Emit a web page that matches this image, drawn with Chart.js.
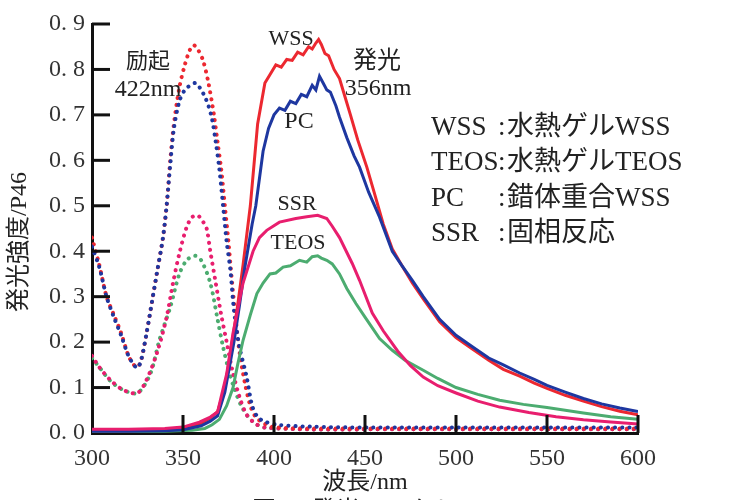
<!DOCTYPE html>
<html>
<head>
<meta charset="utf-8">
<script src="https://cdn.jsdelivr.net/npm/chart.js@4.4.1/dist/chart.umd.min.js"></script>
<style>
  body { margin: 0; background: #fff; }
  #wrap { width: 729px; height: 500px; }
</style>
</head>
<body>
<div id="wrap"><canvas id="chart"></canvas></div>
<script>
// x ticks / y ticks
const xTicks = [300, 350, 400, 450, 500, 550, 600];
const yTickLabels = ["0. 0", "0. 1", "0. 2", "0. 3", "0. 4", "0. 5", "0. 6", "0. 7", "0. 8", "0. 9"];

// emission (solid)
const wssEmWl = [300, 320, 340, 350, 360, 365, 369, 373, 377, 380, 383, 387, 391, 395, 398, 401, 404, 407, 410, 413, 416, 419, 421, 423, 424.5, 426, 428, 430, 433, 436, 439, 442, 446, 451, 455, 460, 465, 470, 476, 482, 491, 500, 509, 518, 526, 535, 543, 550, 560, 570, 580, 590, 600];
const wssEm = [0.005, 0.005, 0.007, 0.01, 0.022, 0.033, 0.047, 0.10, 0.20, 0.28, 0.37, 0.50, 0.68, 0.77, 0.79, 0.81, 0.805, 0.822, 0.82, 0.838, 0.832, 0.85, 0.845, 0.858, 0.866, 0.855, 0.835, 0.83, 0.80, 0.78, 0.74, 0.70, 0.645, 0.585, 0.53, 0.46, 0.405, 0.37, 0.33, 0.295, 0.245, 0.21, 0.185, 0.16, 0.14, 0.125, 0.11, 0.098, 0.083, 0.07, 0.058, 0.048, 0.04];

const pcEmWl = [300, 320, 340, 350, 360, 365, 369, 373, 378, 381, 384, 388, 390, 394, 397, 400, 403, 406, 409, 412, 415, 418, 421, 423, 425, 427, 429, 431, 434, 436, 440, 444, 447, 452, 458, 465, 470, 476, 482, 491, 500, 509, 518, 526, 535, 543, 550, 560, 570, 580, 590, 600];
const pcEm = [0.004, 0.004, 0.005, 0.007, 0.016, 0.026, 0.038, 0.09, 0.20, 0.28, 0.365, 0.46, 0.50, 0.62, 0.67, 0.70, 0.715, 0.71, 0.73, 0.725, 0.745, 0.74, 0.765, 0.755, 0.785, 0.77, 0.755, 0.75, 0.72, 0.695, 0.65, 0.61, 0.585, 0.53, 0.475, 0.40, 0.37, 0.336, 0.30, 0.25, 0.215, 0.19, 0.165, 0.15, 0.132, 0.118, 0.105, 0.09, 0.076, 0.064, 0.055, 0.047];

const ssrEmWl = [300, 320, 340, 350, 359, 365, 369, 371, 374, 377.5, 383, 388.5, 392, 396, 403, 412, 418, 424, 429, 432, 436, 443, 447, 454, 460, 468, 475, 482, 490, 500, 512, 524, 540, 555, 570, 585, 600];
const ssrEm = [0.008, 0.008, 0.01, 0.013, 0.024, 0.035, 0.046, 0.08, 0.13, 0.22, 0.33, 0.40, 0.43, 0.446, 0.464, 0.472, 0.476, 0.479, 0.472, 0.455, 0.43, 0.373, 0.336, 0.264, 0.225, 0.18, 0.148, 0.123, 0.104, 0.088, 0.07, 0.057, 0.045, 0.036, 0.029, 0.024, 0.02];

const teosEmWl = [300, 340, 355, 362, 366, 370, 374, 377.5, 380, 383, 387, 390.6, 394, 397.8, 401, 405, 409, 414, 418, 421, 424, 426, 429, 432, 436, 440, 445, 450, 458, 465, 472, 482, 490, 500, 512, 524, 537, 550, 570, 585, 600];
const teosEm = [0.003, 0.004, 0.006, 0.01, 0.018, 0.03, 0.06, 0.10, 0.15, 0.204, 0.26, 0.307, 0.33, 0.35, 0.352, 0.365, 0.368, 0.38, 0.376, 0.388, 0.39, 0.385, 0.38, 0.372, 0.35, 0.318, 0.285, 0.255, 0.208, 0.182, 0.16, 0.138, 0.12, 0.10, 0.085, 0.072, 0.063, 0.056, 0.044, 0.036, 0.03];

// excitation (dotted)
const wssExWl = [300, 304, 308, 312, 316, 320, 323, 325, 327, 330, 333, 336, 339, 341, 343, 345, 348, 351, 354, 356, 358, 361, 364, 367, 369, 371, 373, 375, 377, 379, 381, 384, 387, 390, 395, 400, 420, 450, 500, 550, 600];
const wssEx = [0.43, 0.37, 0.30, 0.26, 0.22, 0.17, 0.15, 0.145, 0.16, 0.22, 0.29, 0.36, 0.43, 0.50, 0.60, 0.68, 0.76, 0.81, 0.845, 0.853, 0.845, 0.82, 0.77, 0.70, 0.64, 0.58, 0.50, 0.42, 0.33, 0.25, 0.18, 0.11, 0.06, 0.035, 0.02, 0.013, 0.01, 0.01, 0.01, 0.01, 0.01];

const pcExWl = [300, 304, 308, 312, 316, 320, 323, 325, 327, 330, 333, 336, 339, 341, 343, 345, 348, 351, 354, 357, 360, 362, 364, 366, 368, 370, 372, 374, 376, 378, 381, 385, 388, 391, 395, 402, 420, 450, 500, 550, 600];
const pcEx = [0.41, 0.365, 0.30, 0.255, 0.215, 0.17, 0.15, 0.143, 0.16, 0.22, 0.29, 0.36, 0.43, 0.50, 0.59, 0.67, 0.73, 0.755, 0.765, 0.77, 0.755, 0.74, 0.72, 0.69, 0.64, 0.58, 0.50, 0.42, 0.36, 0.27, 0.19, 0.123, 0.06, 0.035, 0.025, 0.018, 0.014, 0.012, 0.012, 0.012, 0.012];

const ssrExWl = [300, 304, 310, 317, 325, 330, 336, 341, 344.5, 348, 352, 355, 358, 361, 363, 365, 368, 371, 374, 377, 381, 385, 390, 395, 420, 450, 500, 550, 600];
const ssrEx = [0.17, 0.145, 0.117, 0.095, 0.088, 0.117, 0.18, 0.255, 0.33, 0.395, 0.453, 0.475, 0.479, 0.465, 0.45, 0.40, 0.33, 0.26, 0.20, 0.14, 0.08, 0.04, 0.02, 0.012, 0.008, 0.008, 0.008, 0.008, 0.008];

const teosExWl = [300, 305, 310, 317, 325, 332, 337, 343, 348, 352, 356.5, 360, 365, 369, 372, 375, 378, 382, 386, 390, 395, 420, 450, 500, 550, 600];
const teosEx = [0.165, 0.14, 0.115, 0.095, 0.088, 0.13, 0.204, 0.277, 0.35, 0.38, 0.39, 0.38, 0.33, 0.25, 0.19, 0.14, 0.10, 0.06, 0.035, 0.02, 0.012, 0.008, 0.008, 0.008, 0.008, 0.008];

const RED = "rgb(236, 40, 48)";
const BLUE = "rgb(30, 55, 160)";
const PINK = "rgb(232, 30, 110)";
const GREEN = "rgb(76, 172, 112)";

const pts = (xs, ys) => xs.map((x, i) => ({ x: x, y: ys[i] }));

const solid = (label, xs, ys, color) => ({
	label: label,
	data: pts(xs, ys),
	borderColor: color,
	borderWidth: 3,
	pointRadius: 0,
	tension: 0,
	fill: false,
});
const dotted = (label, xs, ys, color) => ({
	label: label,
	data: pts(xs, ys),
	borderColor: color,
	borderWidth: 4,
	borderDash: [0.1, 7],
	borderCapStyle: "round",
	pointRadius: 0,
	tension: 0.3,
	fill: false,
});

const serif = '"Liberation Serif", "Noto Sans CJK JP", serif';

// inward ticks + annotation texts
const extras = {
	id: "extras",
	afterDraw(chart) {
		const ctx = chart.ctx;
		const xs = chart.scales.x, ys = chart.scales.y;
		const area = chart.chartArea;
		ctx.save();
		ctx.strokeStyle = "#111";
		ctx.lineWidth = 3;
		xTicks.slice(1).forEach((v) => {
			const px = xs.getPixelForValue(v);
			ctx.beginPath();
			ctx.moveTo(px, area.bottom);
			ctx.lineTo(px, area.bottom - 18);
			ctx.stroke();
		});
		yTickLabels.forEach((t, i) => {
			if (i === 0) return;
			const py = ys.getPixelForValue(i / 10);
			ctx.beginPath();
			ctx.moveTo(area.left, py);
			ctx.lineTo(area.left + 18, py);
			ctx.stroke();
		});

		ctx.fillStyle = "#222";
		ctx.textAlign = "center";
		ctx.textBaseline = "middle";
		const txt = (s, x, y, size) => {
			ctx.font = size + "px " + serif;
			ctx.fillText(s, x, y);
		};
		txt("励起", 148, 62, 22);
		txt("422nm", 148, 90, 24);
		txt("WSS", 291, 39, 22);
		txt("発光", 377, 62, 24);
		txt("356nm", 378, 89, 24);
		txt("PC", 299, 122, 24);
		txt("SSR", 297, 204, 22);
		txt("TEOS", 298, 243, 22);

		// legend block
		ctx.textAlign = "left";
		const rows = [
			["WSS", "水熱ゲルWSS", 128],
			["TEOS", "水熱ゲルTEOS", 163],
			["PC", "錯体重合WSS", 199],
			["SSR", "固相反応", 234],
		];
		ctx.font = "27px " + serif;
		rows.forEach((r) => {
			ctx.fillText(r[0], 431, r[2]);
			ctx.fillText(":", 498, r[2]);
			ctx.fillText(r[1], 507, r[2]);
		});

		// y axis title
		ctx.save();
		ctx.translate(20, 242);
		ctx.rotate(-Math.PI / 2);
		ctx.textAlign = "center";
		ctx.font = "24px " + serif;
		ctx.fillText("発光強度/P46", 0, 0);
		ctx.restore();

		// cut-off caption
		ctx.textAlign = "center";
		ctx.textBaseline = "alphabetic";
		ctx.font = "24px " + serif;
		ctx.fillText("図2　発光スペクトル", 366, 518);
		ctx.restore();
	},
};

const config = {
	type: "line",
	data: {
		datasets: [
			solid("SSR", ssrEmWl, ssrEm, PINK),
			solid("PC", pcEmWl, pcEm, BLUE),
			solid("WSS", wssEmWl, wssEm, RED),
			solid("TEOS", teosEmWl, teosEm, GREEN),
			dotted("PC ex", pcExWl, pcEx, BLUE),
			dotted("WSS ex", wssExWl, wssEx, RED),
			dotted("SSR ex", ssrExWl, ssrEx, PINK),
			dotted("TEOS ex", teosExWl, teosEx, GREEN),
		],
	},
	options: {
		responsive: true,
		maintainAspectRatio: false,
		animation: false,
		layout: { padding: { top: 24, right: 91, left: 0, bottom: 0 } },
		scales: {
			x: {
				type: "linear",
				min: 300,
				max: 600,
				afterFit: (s) => { s.height = 67; },
				afterBuildTicks: (s) => { s.ticks = xTicks.map((v) => ({ value: v })); },
				grid: { display: false, drawTicks: false },
				border: { display: true, color: "#111", width: 3 },
				ticks: {
					color: "#333",
					font: { family: serif, size: 24 },
					padding: 11,
					maxRotation: 0,
					callback: (v) => String(v),
				},
				title: {
					display: true,
					text: "波長/nm",
					color: "#222",
					font: { family: serif, size: 24, lineHeight: 1 },
					padding: { top: 0, bottom: 5 },
				},
			},
			y: {
				min: 0,
				max: 0.9,
				afterFit: (s) => { s.width = 92; },
				afterBuildTicks: (s) => { s.ticks = yTickLabels.map((t, i) => ({ value: i / 10 })); },
				grid: { display: false, drawTicks: false },
				border: { display: true, color: "#111", width: 3 },
				ticks: {
					color: "#333",
					font: { family: serif, size: 24 },
					padding: 7,
					callback: (v) => yTickLabels[Math.round(v * 10)],
				},
			},
		},
		plugins: {
			legend: { display: false },
			tooltip: { enabled: false },
		},
	},
	plugins: [extras],
};

const myChart = new Chart(document.getElementById("chart").getContext("2d"), config);
</script>
</body>
</html>
